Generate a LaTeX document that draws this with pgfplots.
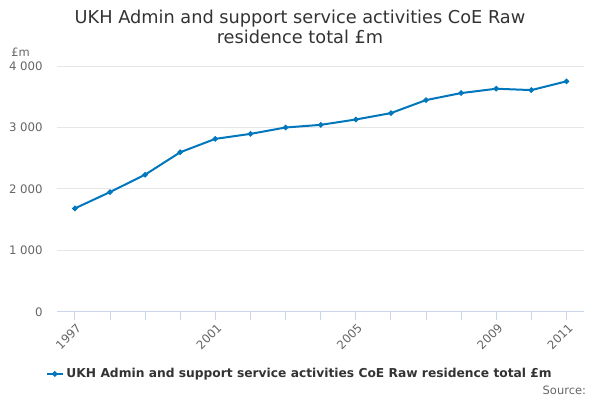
\documentclass[border=0pt]{standalone}
\usepackage{pgfplots}
\pgfplotsset{compat=1.18}
\usepackage{fontspec}
\setmainfont{DejaVu Sans}
\definecolor{series}{HTML}{0077BD}
\definecolor{gridc}{HTML}{E6E6E6}
\definecolor{axc}{HTML}{CCD6EB}
\definecolor{labc}{HTML}{666666}
\definecolor{titc}{HTML}{333333}
\begin{document}
\begin{tikzpicture}
\useasboundingbox (0pt,0pt) rectangle (450pt,300pt);
\node[font=\fontsize{13.3}{15}\selectfont, text=titc, align=center] at (225pt,279.5pt) {UKH Admin and support service activities CoE Raw\\residence total £m};
\node[font=\fontsize{8.6}{10}\selectfont, text=labc, anchor=west] at (5pt,260.5pt) {£m};
\node[font=\fontsize{8.6}{10}\selectfont, text=labc, anchor=east] at (443pt,7.5pt) {Source:};
\begin{axis}[
  at={(43pt,66.2pt)}, anchor=south west,
  scale only axis, width=395pt, height=184.3pt,
  xmin=1996.5, xmax=2011.5, ymin=0, ymax=4000,
  xtick={1997,2001,2005,2009,2011},
  xticklabels={1997,2001,2005,2009,2011},
  minor xtick={1998,1999,2000,2002,2003,2004,2006,2007,2008,2010},
  ytick={0,1000,2000,3000,4000},
  yticklabels={0,1 000,2 000,3 000,4 000},
  axis x line*=bottom,
  axis y line*=left,
  x axis line style={draw=axc, line width=0.75pt, -},
  y axis line style={draw=none},
  ymajorgrids, grid style={gridc, line width=0.75pt},
  major tick length=6pt, minor tick length=6pt,
  xtick style={draw=axc, line width=0.75pt},
  minor x tick style={draw=axc, line width=0.75pt},
  xtick align=outside,
  ytick style={draw=none},
  ticklabel style={font=\fontsize{8.8}{10}\selectfont, text=labc},
  xticklabel style={rotate=45, anchor=north east, inner sep=1pt, yshift=-1pt},
  yticklabel style={anchor=east, xshift=-7.5pt},
  legend style={at={(0.461,-0.253)}, anchor=center, draw=none, fill=none,
    font=\fontsize{9.2}{11}\selectfont\bfseries, text=titc},
  legend image code/.code={\draw[series, line width=1.5pt] (0pt,0pt) -- (12pt,0pt); \fill[series] (6pt,0pt) circle (1.2pt);},
]
\addplot[series, line width=1.5pt, mark=*, mark size=1.2pt] coordinates {
(1997,1682) (1998,1948) (1999,2231) (2000,2596) (2001,2814)
(2002,2895) (2003,2999) (2004,3042) (2005,3129) (2006,3233)
(2007,3445) (2008,3559) (2009,3630) (2010,3608) (2011,3750)
};
\addlegendentry{UKH Admin and support service activities CoE Raw residence total £m}
\end{axis}
\end{tikzpicture}
\end{document}
